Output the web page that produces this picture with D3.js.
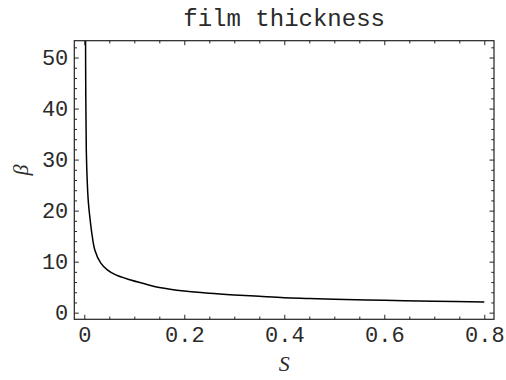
<!DOCTYPE html>
<html>
<head>
<meta charset="utf-8">
<script src="https://cdn.jsdelivr.net/npm/d3@7"></script>
<style>
  body { margin: 0; background: #fff; }
  .tick text { font-family: "Liberation Mono", monospace; font-size: 22px; fill: #2a2a2a; }
</style>
</head>
<body>
<div id="chart"></div>
<script>
// curve values
var sValues    = [0.0024, 0.003, 0.004, 0.006, 0.008, 0.011, 0.015, 0.021, 0.033, 0.046, 0.063, 0.093, 0.129, 0.15, 0.2, 0.25, 0.3, 0.35, 0.4, 0.45, 0.5, 0.6, 0.7, 0.8];
var betaValues = [56, 42, 31.9, 25.4, 21.8, 18.8, 15.6, 12.3, 9.7, 8.4, 7.4, 6.4, 5.43, 4.95, 4.25, 3.8, 3.47, 3.2, 2.94, 2.8, 2.65, 2.43, 2.25, 2.1];

// tick marks
var xMajor = [0, 0.2, 0.4, 0.6, 0.8];
var xMinor = [0.05, 0.1, 0.15, 0.25, 0.3, 0.35, 0.45, 0.5, 0.55, 0.65, 0.7, 0.75];
var yMajor = [0, 10, 20, 30, 40, 50];
var yMinor = [2, 4, 6, 8, 12, 14, 16, 18, 22, 24, 26, 28, 32, 34, 36, 38, 42, 44, 46, 48, 52];

var titleText = "film thickness";
var xLabel = "S";
var yLabel = "\u03b2";

// set the dimensions and margins of the graph
var margin = {top: 40.7, right: 12, bottom: 60.7, left: 74.3},
    width = 506 - margin.left - margin.right,
    height = 380 - margin.top - margin.bottom;

var x = d3.scaleLinear()
    .domain([-0.02, 0.8194])
    .range([0, width]);
var y = d3.scaleLinear()
    .domain([-1.3, 53.3])
    .range([height, 0]);

var svg = d3.select("#chart").append("svg")
    .attr("width", 506)
    .attr("height", 380)
    .append("g")
    .attr("transform", "translate(" + margin.left + "," + margin.top + ")");

svg.append("clipPath").attr("id", "clip")
    .append("rect").attr("width", width).attr("height", height);

// the curve
var points = sValues.map(function(s, i) { return [s, betaValues[i]]; });
var line = d3.line()
    .x(function(d) { return x(d[0]); })
    .y(function(d) { return y(d[1]); })
    .curve(d3.curveCatmullRom.alpha(0.5));

svg.append("path")
    .datum(points)
    .attr("clip-path", "url(#clip)")
    .attr("fill", "none")
    .attr("stroke", "#000")
    .attr("stroke-width", 1.5)
    .attr("d", line);

// axes: ticks point inward on all four sides
function addAxis(axis, tx, ty) {
    var g = svg.append("g")
        .attr("transform", "translate(" + tx + "," + ty + ")")
        .call(axis);
    g.select(".domain").remove();
    g.selectAll("line").attr("stroke", "#222");
    return g;
}

addAxis(d3.axisBottom(x).tickValues(xMajor).tickSize(-4.5).tickPadding(7)
    .tickFormat(function(d) { return d === 0 ? "0" : d3.format(".1f")(d); }), 0, height);
addAxis(d3.axisBottom(x).tickValues(xMinor).tickSize(-2.7).tickFormat(""), 0, height);
addAxis(d3.axisTop(x).tickValues(xMajor).tickSize(-4.5).tickFormat(""), 0, 0);
addAxis(d3.axisTop(x).tickValues(xMinor).tickSize(-2.7).tickFormat(""), 0, 0);

addAxis(d3.axisLeft(y).tickValues(yMajor).tickSize(-4.5).tickPadding(6), 0, 0);
addAxis(d3.axisLeft(y).tickValues(yMinor).tickSize(-2.7).tickFormat(""), 0, 0);
addAxis(d3.axisRight(y).tickValues(yMajor).tickSize(-4.5).tickFormat(""), width, 0);
addAxis(d3.axisRight(y).tickValues(yMinor).tickSize(-2.7).tickFormat(""), width, 0);

// frame
svg.append("rect")
    .attr("width", width)
    .attr("height", height)
    .attr("fill", "none")
    .attr("stroke", "#222")
    .attr("stroke-width", 1.2);

// title
svg.append("text")
    .attr("x", width / 2)
    .attr("y", -14.5)
    .attr("text-anchor", "middle")
    .style("font-family", "'Liberation Mono', monospace")
    .style("font-size", "24px")
    .style("fill", "#2a2a2a")
    .text(titleText);

// axis labels
svg.append("text")
    .attr("x", x(0.4))
    .attr("y", height + 52)
    .attr("text-anchor", "middle")
    .style("font-family", "'Liberation Serif', serif")
    .style("font-style", "italic")
    .style("font-size", "22px")
    .style("fill", "#2a2a2a")
    .text(xLabel);

svg.append("text")
    .attr("transform", "translate(" + (-46) + "," + (170 - margin.top) + ") rotate(-90)")
    .attr("text-anchor", "middle")
    .style("font-family", "'Liberation Serif', serif")
    .style("font-style", "italic")
    .style("font-size", "22px")
    .style("fill", "#2a2a2a")
    .text(yLabel);
</script>
</body>
</html>
